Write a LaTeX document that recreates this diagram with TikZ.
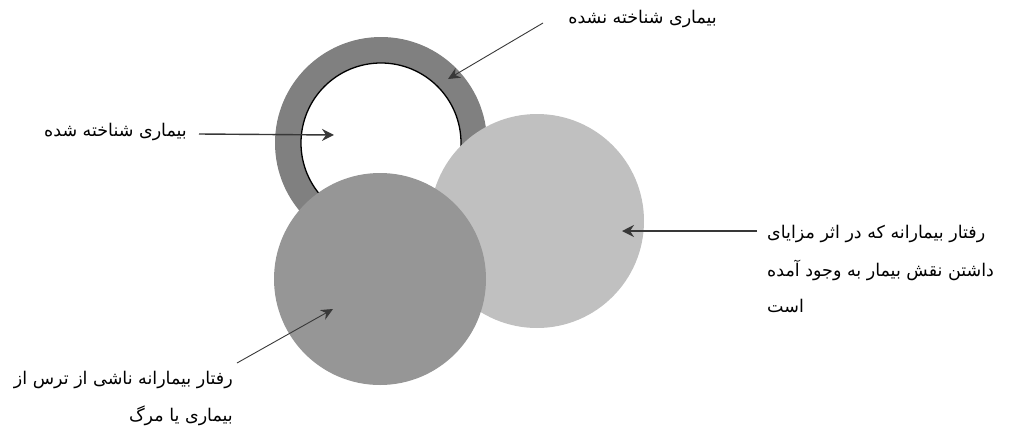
\documentclass[tikz,border=0pt]{standalone}
\usepackage{fontspec}
\TeXXeTstate=1
\newfontfamily\arabicfont[Script=Arabic]{DejaVu Sans}
\usetikzlibrary{arrows.meta}
\definecolor{ringgray}{HTML}{808080}
\definecolor{lightgr}{HTML}{C0C0C0}
\definecolor{midgr}{HTML}{969696}
\definecolor{arrowgr}{HTML}{383838}
\begin{document}
\begin{tikzpicture}[x=1pt,y=-1pt,
  lbl/.style={font=\arabicfont\fontsize{17.5}{20}\selectfont, inner sep=0pt},
  thickarrow/.style={draw=arrowgr, line width=1.4pt, -{Stealth[length=12pt,width=12pt,inset=4pt]}},
  thinarrow/.style={draw=arrowgr, line width=0.9pt, -{Stealth[length=12pt,width=11pt,inset=4pt]}}]
\useasboundingbox (0,0) rectangle (1029,429);
% circles
\fill[ringgray] (381,143) circle[radius=106];
\filldraw[fill=white, draw=black, line width=1.3pt] (381,143) circle[radius=80];
\fill[lightgr] (537,221) circle[radius=107];
\fill[midgr] (380,279) circle[radius=106];
% labels
\node[lbl, anchor=east] (top) at (717,19) {\beginR بیماری شناخته نشده\endR};
\node[lbl, anchor=east] (left) at (187,132) {\beginR بیماری شناخته شده\endR};
\node[lbl, anchor=west] (r1) at (767,234) {\beginR رفتار بیمارانه که در اثر مزایای\endR};
\node[lbl, anchor=west] (r2) at (767,270) {\beginR داشتن نقش بیمار به وجود آمده\endR};
\node[lbl, anchor=west] (r3) at (767,306) {\beginR است\endR};
\node[lbl, anchor=east] (b1) at (233,380) {\beginR رفتار بیمارانه ناشی از ترس از\endR};
\node[lbl, anchor=east] (b2) at (233,416) {\beginR بیماری یا مرگ\endR};
% arrow points
\coordinate (topS) at (543,23);
\coordinate (topT) at (448,79);
\coordinate (leftS) at (199,134);
\coordinate (leftT) at (334,135);
\coordinate (rS) at (757,231);
\coordinate (rT) at (622,231);
\coordinate (bS) at (237,363);
\coordinate (bT) at (333,309);
% arrows
\draw[thinarrow] (topS) -- (topT);
\draw[thickarrow] (leftS) -- (leftT);
\draw[thickarrow] (rS) -- (rT);
\draw[thinarrow] (bS) -- (bT);
\end{tikzpicture}
\end{document}
